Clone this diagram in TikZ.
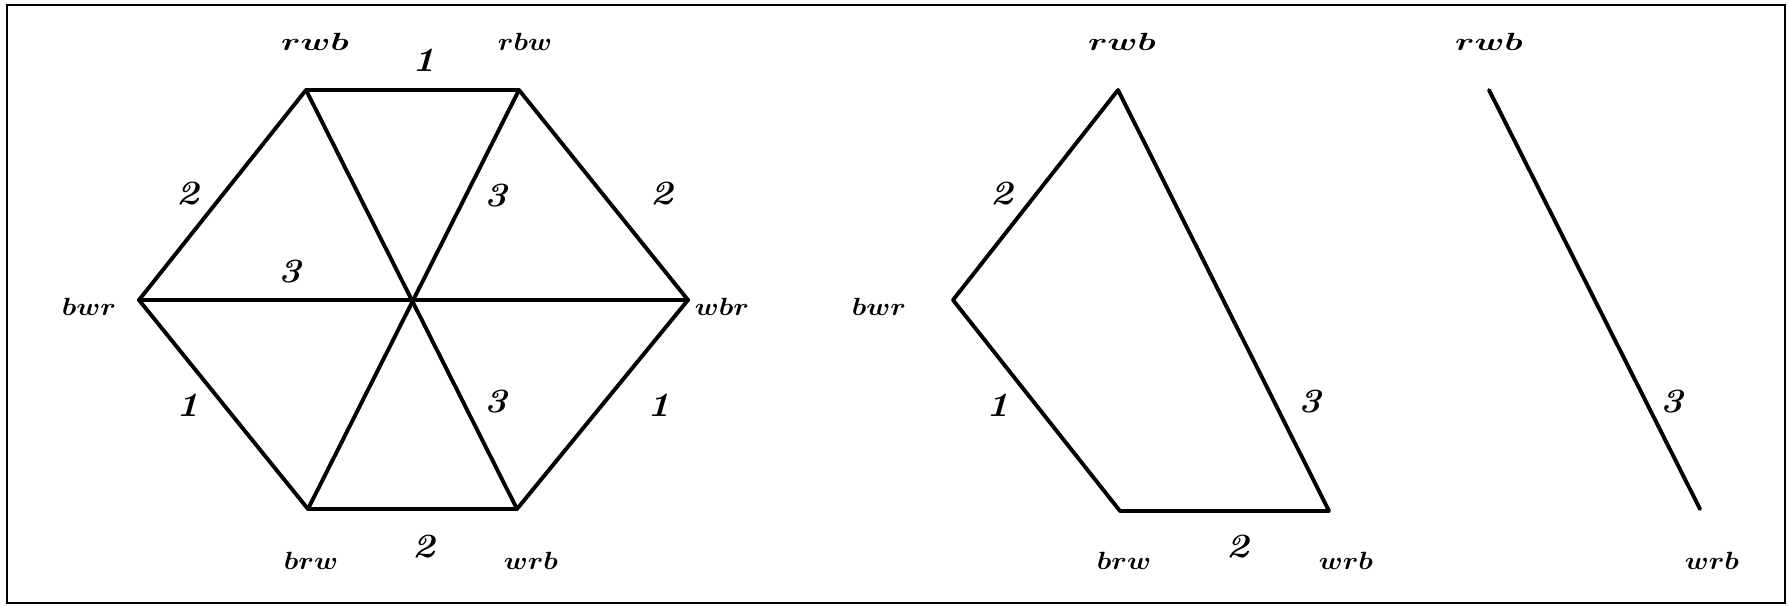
\documentclass[tikz,border=0pt]{standalone}
\usepackage{bm}
\newcommand{\vtx}[1]{\scalebox{1.12}[1]{$\bm{#1}$}}
\newcommand{\vtb}[1]{\scalebox{1.4}[1]{$\bm{#1}$}}
\newcommand{\wt}[1]{\scalebox{1.13}[1]{#1}}
\begin{document}
\begin{tikzpicture}[x=1pt,y=-1pt,
  edge/.style={line width=3.9pt,line cap=round,line join=round},
  vlab/.style={font=\fontsize{29}{34}\selectfont,inner sep=0pt},
  elab/.style={font=\fontsize{34}{40}\selectfont\bfseries\itshape,inner sep=0pt}]
\useasboundingbox (0,0) rectangle (1789,607);
\draw[line width=2.6pt] (7,5) rectangle (1785,603);
% hexagon
\coordinate (A) at (306,90);
\coordinate (B) at (519,90);
\coordinate (C) at (688,300);
\coordinate (D) at (517,509);
\coordinate (E) at (308,509);
\coordinate (F) at (139,300);
\coordinate (O) at (413,300);
\draw[edge] (A) -- (B) -- (C) -- (D) -- (E) -- (F) -- cycle;
\draw[edge] (A) -- (D);
\draw[edge] (B) -- (E);
\draw[edge] (F) -- (C);
\node[vlab] (lA) at (315,42) {\vtb{rwb}};
\node[vlab] (lB) at (525,42) {\vtx{rbw}};
\node[vlab] (lC) at (722,307) {\vtx{wbr}};
\node[vlab] (lD) at (531,561) {\vtx{wrb}};
\node[vlab] (lE) at (311,561) {\vtx{brw}};
\node[vlab] (lF) at (89,307) {\vtx{bwr}};
\node[elab] (e1) at (424,60) {\wt{1}};
\node[elab] (e2) at (188,194) {\wt{2}};
\node[elab] (e3) at (290,272) {\wt{3}};
\node[elab] (e4) at (496,196) {\wt{3}};
\node[elab] (e5) at (662,194) {\wt{2}};
\node[elab] (e6) at (188,405) {\wt{1}};
\node[elab] (e7) at (496,402) {\wt{3}};
\node[elab] (e8) at (659,405) {\wt{1}};
\node[elab] (e9) at (424,547) {\wt{2}};
% second figure
\coordinate (P) at (1118,90);
\coordinate (Q) at (953,300);
\coordinate (R) at (1120,511);
\coordinate (S) at (1329,511);
\draw[edge] (S) -- (P) -- (Q) -- (R) -- (S);
\node[vlab] (lP) at (1122,42) {\vtb{rwb}};
\node[vlab] (lQ) at (879,307) {\vtx{bwr}};
\node[vlab] (lR) at (1124,561) {\vtx{brw}};
\node[vlab] (lS) at (1346,561) {\vtx{wrb}};
\node[elab] (f1) at (1002,194) {\wt{2}};
\node[elab] (f2) at (998,405) {\wt{1}};
\node[elab] (f3) at (1310,402) {\wt{3}};
\node[elab] (f4) at (1238,547) {\wt{2}};
% third figure
\coordinate (T) at (1489,90);
\coordinate (U) at (1700,509);
\draw[edge] (T) -- (U);
\node[vlab] (lT) at (1489,42) {\vtb{rwb}};
\node[vlab] (lU) at (1712,561) {\vtx{wrb}};
\node[elab] (g1) at (1672,402) {\wt{3}};
\end{tikzpicture}
\end{document}
